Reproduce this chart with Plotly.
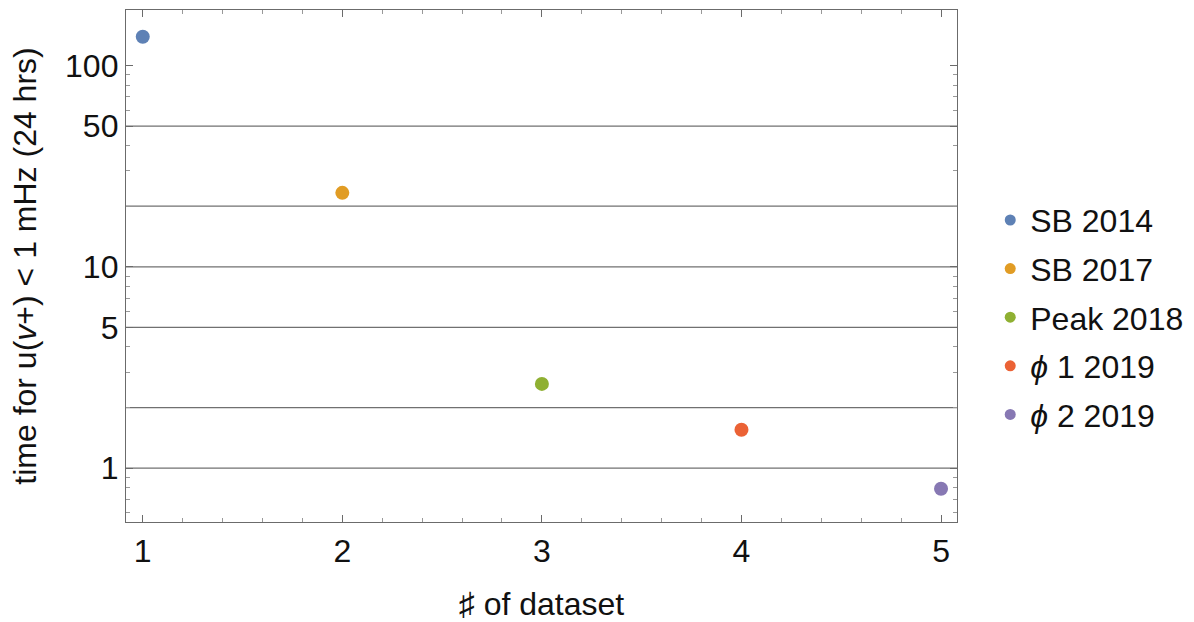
import numpy as np
import plotly.graph_objects as go

# ---- data ----
names = ["SB 2014", "SB 2017", "Peak 2018", "<i>ϕ</i> 1 2019", "<i>ϕ</i> 2 2019"]
dataset_index = [1, 2, 3, 4, 5]
time_values = [139.0, 23.3, 2.62, 1.55, 0.79]
colors = ["#5E81B5", "#E19C24", "#8FB032", "#EB6235", "#8778B3"]

y_major_ticks = [1, 5, 10, 50, 100]
y_minor_ticks = [0.6, 0.7, 0.8, 0.9, 2, 3, 4, 6, 7, 8, 9, 20, 30, 40, 60, 70, 80, 90]
grid_values = [1, 2, 5, 10, 20, 50]

x_range = [0.916, 5.08]
y_range = [np.log10(0.54), np.log10(188.7)]

FONT = "Liberation Sans, Arial, sans-serif"
FS = 32
FRAME = "#6b6b6b"
GRID = "#707070"

fig = go.Figure()

# gridlines drawn as line traces spanning the frame
for g in grid_values:
    fig.add_trace(go.Scatter(x=x_range, y=[g, g], mode="lines",
                             line=dict(color=GRID, width=1.2),
                             hoverinfo="skip", showlegend=False))

for i, (n, xv, yv, c) in enumerate(zip(names, dataset_index, time_values, colors)):
    fig.add_trace(go.Scatter(x=[xv], y=[yv], mode="markers",
                             marker=dict(color=c, size=14),
                             showlegend=False, name=n))
    # legend-only entry with smaller dot
    fig.add_trace(go.Scatter(x=[None], y=[None], mode="markers",
                             marker=dict(color=c, size=11),
                             name=n, legendgroup=f"g{i}", showlegend=True))

fig.update_layout(
    width=1194, height=622,
    margin=dict(l=126, r=237, t=10, b=100, autoexpand=False),
    paper_bgcolor="white", plot_bgcolor="white",
    font=dict(family=FONT, size=FS, color="#111"),
    legend=dict(x=1.04, xanchor="left", y=0.40, yanchor="middle",
                font=dict(size=FS, family=FONT, color="#111"),
                traceorder="grouped", tracegroupgap=4,
                itemwidth=30),
    showlegend=True,
)

fig.update_xaxes(
    range=x_range, showgrid=False, zeroline=False, automargin=False,
    showline=True, linecolor=FRAME, linewidth=1.3, mirror="ticks",
    ticks="inside", ticklen=7, tickwidth=1.3, tickcolor=FRAME,
    tickvals=dataset_index, ticktext=[str(v) for v in dataset_index],
    tickfont=dict(size=FS, family=FONT, color="#111"),
    minor=dict(ticks="inside", dtick=0.2, tick0=1, ticklen=4, tickwidth=1, tickcolor="#999", showgrid=False),
    title=dict(text="♯ of dataset", font=dict(size=FS, family=FONT, color="#111"), standoff=30),
)

fig.update_yaxes(
    type="log", range=y_range, showgrid=False, zeroline=False, automargin=False,
    showline=True, linecolor=FRAME, linewidth=1.3, mirror="ticks",
    ticks="inside", ticklen=7, tickwidth=1.3, tickcolor=FRAME,
    tickvals=y_major_ticks, ticktext=[str(v) for v in y_major_ticks],
    tickfont=dict(size=FS, family=FONT, color="#111"),
    minor=dict(ticks="inside", tickvals=y_minor_ticks, ticklen=4, tickwidth=1, tickcolor="#999", showgrid=False),
    title=dict(text="time for u(<i>v</i>+) < 1 mHz (24 hrs)", font=dict(size=FS, family=FONT, color="#111"), standoff=18),
)

fig.write_html("out.html")
